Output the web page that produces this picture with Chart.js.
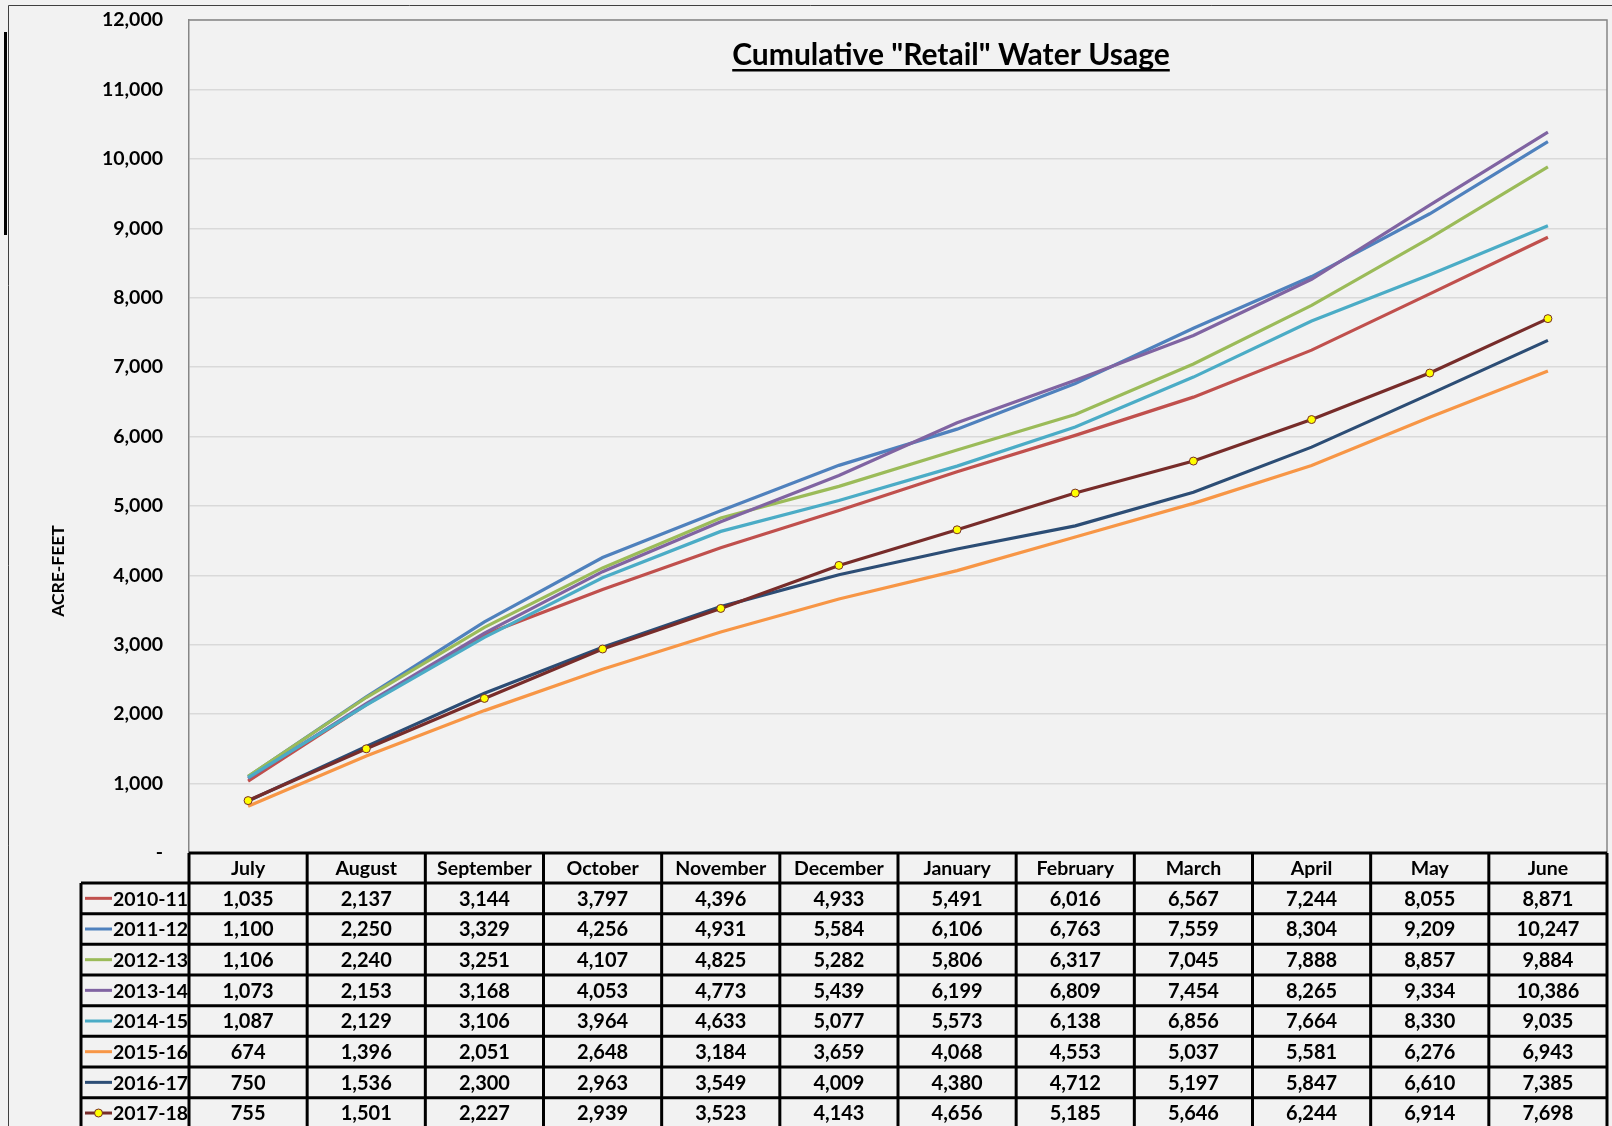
<!DOCTYPE html>
<html>
<head>
<meta charset="utf-8">
<script src="https://cdn.jsdelivr.net/npm/chart.js@4.4.1/dist/chart.umd.min.js"></script>
<style>
  html, body { margin: 0; padding: 0; background: #f2f2f2; }
  #wrap { width: 1612px; height: 1126px; }
</style>
</head>
<body>
<div id="wrap"><canvas id="chart" width="1612" height="1126"></canvas></div>
<script>
const months = ['July', 'August', 'September', 'October', 'November', 'December',
                'January', 'February', 'March', 'April', 'May', 'June'];
const seasons = ['2010-11', '2011-12', '2012-13', '2013-14', '2014-15', '2015-16', '2016-17', '2017-18'];
const colors = ['#c0504d', '#4f81bd', '#9bbb59', '#8064a2', '#4bacc6', '#f79646', '#2c4d75', '#772c2a'];

const fy2010 = [1035, 2137, 3144, 3797, 4396, 4933, 5491, 6016, 6567, 7244, 8055, 8871];
const fy2011 = [1100, 2250, 3329, 4256, 4931, 5584, 6106, 6763, 7559, 8304, 9209, 10247];
const fy2012 = [1106, 2240, 3251, 4107, 4825, 5282, 5806, 6317, 7045, 7888, 8857, 9884];
const fy2013 = [1073, 2153, 3168, 4053, 4773, 5439, 6199, 6809, 7454, 8265, 9334, 10386];
const fy2014 = [1087, 2129, 3106, 3964, 4633, 5077, 5573, 6138, 6856, 7664, 8330, 9035];
const fy2015 = [674, 1396, 2051, 2648, 3184, 3659, 4068, 4553, 5037, 5581, 6276, 6943];
const fy2016 = [750, 1536, 2300, 2963, 3549, 4009, 4380, 4712, 5197, 5847, 6610, 7385];
const fy2017 = [755, 1501, 2227, 2939, 3523, 4143, 4656, 5185, 5646, 6244, 6914, 7698];
const seriesValues = [fy2010, fy2011, fy2012, fy2013, fy2014, fy2015, fy2016, fy2017];

const yTicks = [0, 1000, 2000, 3000, 4000, 5000, 6000, 7000, 8000, 9000, 10000, 11000, 12000];

const FONT = 'Lato, "Open Sans", sans-serif';
const fmt = v => v.toLocaleString('en-US');

// sheet decorations, plot border, title and the data table under the plot
const sheetPlugin = {
    id: 'sheet',
    beforeDraw(chart) {
        const ctx = chart.ctx;
        ctx.save();
        ctx.fillStyle = '#f2f2f2';
        ctx.fillRect(0, 0, chart.width, chart.height);
        ctx.strokeStyle = '#404040';
        ctx.lineWidth = 1;
        ctx.beginPath();
        ctx.moveTo(8.5, chart.height);
        ctx.lineTo(8.5, 5.5);
        ctx.lineTo(chart.width, 5.5);
        ctx.stroke();
        ctx.fillStyle = '#000';
        ctx.fillRect(4, 32, 3, 203);
        ctx.restore();
    },
    afterDraw(chart) {
        const ctx = chart.ctx;
        const area = chart.chartArea;
        const x = chart.scales.x;
        ctx.save();

        // plot area border (top + right)
        ctx.strokeStyle = '#868686';
        ctx.lineWidth = 1.5;
        ctx.beginPath();
        ctx.moveTo(area.left, area.top);
        ctx.lineTo(area.right, area.top);
        ctx.lineTo(area.right, area.bottom);
        ctx.stroke();

        // title
        ctx.fillStyle = '#000';
        ctx.font = 'bold 30px ' + FONT;
        ctx.textAlign = 'center';
        ctx.textBaseline = 'alphabetic';
        const title = 'Cumulative "Retail" Water Usage';
        const tx = 951, ty = 65;
        ctx.fillText(title, tx, ty);
        const tw = ctx.measureText(title).width;
        ctx.fillRect(tx - tw / 2, ty + 4, tw, 2.5);

        // y axis title
        ctx.save();
        ctx.translate(58, 571);
        ctx.rotate(-Math.PI / 2);
        ctx.font = 'bold 17.5px ' + FONT;
        ctx.textAlign = 'center';
        ctx.textBaseline = 'middle';
        ctx.fillText('ACRE-FEET', 0, 0);
        ctx.restore();

        // data table
        const colW = area.width / months.length;
        const top = area.bottom;
        const headH = 30;
        const rowH = 30.67;
        const bottom = top + headH + rowH * seasons.length;
        const legL = 81;

        ctx.strokeStyle = '#000';
        ctx.lineWidth = 3;
        ctx.beginPath();
        ctx.moveTo(area.left, top);
        ctx.lineTo(area.right, top);
        for (let r = 0; r <= seasons.length; r++) {
            const yy = top + headH + rowH * r;
            ctx.moveTo(legL, yy);
            ctx.lineTo(area.right, yy);
        }
        for (let c = 0; c <= months.length; c++) {
            const xx = area.left + colW * c;
            ctx.moveTo(xx, top);
            ctx.lineTo(xx, bottom);
        }
        ctx.moveTo(legL, top + headH);
        ctx.lineTo(legL, bottom);
        ctx.stroke();

        ctx.fillStyle = '#000';
        ctx.textAlign = 'center';
        ctx.textBaseline = 'middle';
        ctx.font = 'bold 19.5px ' + FONT;
        months.forEach((m, i) => {
            ctx.fillText(m, x.getPixelForValue(i), top + headH / 2 + 1);
        });

        ctx.font = 'bold 20px ' + FONT;
        seriesValues.forEach((vals, r) => {
            const cy = top + headH + rowH * r + rowH / 2 + 1;
            vals.forEach((v, i) => {
                ctx.fillText(fmt(v), x.getPixelForValue(i), cy);
            });
        });

        // legend keys in the first column
        seasons.forEach((s, r) => {
            const cy = top + headH + rowH * r + rowH / 2;
            ctx.strokeStyle = colors[r];
            ctx.lineWidth = 3;
            ctx.beginPath();
            ctx.moveTo(85, cy);
            ctx.lineTo(112, cy);
            ctx.stroke();
            if (r === seasons.length - 1) {
                ctx.fillStyle = '#ffff00';
                ctx.strokeStyle = colors[r];
                ctx.lineWidth = 1;
                ctx.beginPath();
                ctx.arc(98.5, cy, 4, 0, Math.PI * 2);
                ctx.fill();
                ctx.stroke();
            }
            ctx.fillStyle = '#000';
            ctx.textAlign = 'left';
            ctx.font = 'bold 19.5px ' + FONT;
            ctx.fillText(s, 113, cy + 1);
        });

        ctx.restore();
    }
};

const datasets = seasons.map((s, i) => {
    const last = i === seasons.length - 1;
    return {
        label: s,
        data: seriesValues[i],
        borderColor: colors[i],
        backgroundColor: last ? '#ffff00' : colors[i],
        borderWidth: 3.2,
        pointRadius: last ? 4 : 0,
        pointBorderWidth: 1,
        pointBorderColor: colors[i],
        pointBackgroundColor: '#ffff00',
        tension: 0,
        order: seasons.length - i
    };
});

new Chart(document.getElementById('chart'), {
    type: 'line',
    data: { labels: months, datasets: datasets },
    plugins: [sheetPlugin],
    options: {
        responsive: false,
        animation: false,
        devicePixelRatio: 1,
        layout: { padding: { left: 0, right: 5, top: 20, bottom: 273 } },
        plugins: {
            legend: { display: false },
            title: { display: false },
            tooltip: { enabled: false }
        },
        scales: {
            x: {
                display: false,
                offset: true
            },
            y: {
                min: 0,
                max: 12000,
                afterBuildTicks: scale => { scale.ticks = yTicks.map(v => ({ value: v })); },
                afterFit: scale => { scale.width = 189; },
                border: { display: true, color: '#868686', width: 1.5 },
                grid: {
                    color: '#d9d9d9',
                    lineWidth: 1.5,
                    drawTicks: true,
                    tickLength: 26,
                    tickColor: 'rgba(0,0,0,0)'
                },
                ticks: {
                    padding: 0,
                    color: '#000',
                    font: { family: FONT, weight: 'bold', size: 19.5 },
                    callback: v => v === 0 ? '-' : fmt(v)
                }
            }
        }
    }
});
</script>
</body>
</html>
